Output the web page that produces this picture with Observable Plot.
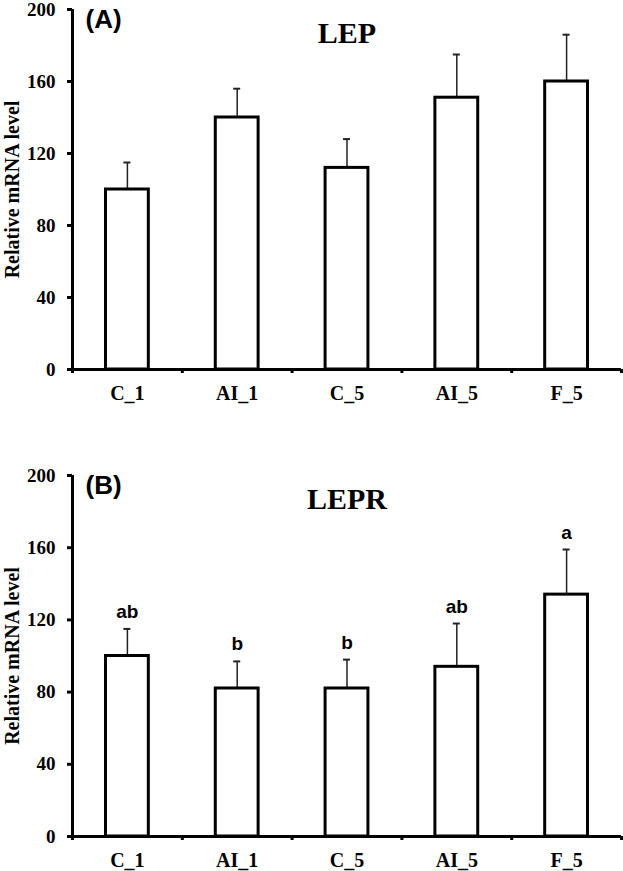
<!DOCTYPE html>
<html>
<head>
<meta charset="utf-8">
<script src="https://cdn.jsdelivr.net/npm/d3@7"></script>
<script src="https://cdn.jsdelivr.net/npm/@observablehq/plot@0.6"></script>
<style>
  body { margin: 0; background: white; }
  #chart svg { display: block; }
</style>
</head>
<body>
<div id="chart"></div>
<script>
const categories = ["C_1", "AI_1", "C_5", "AI_5", "F_5"];
const lepMean = [100, 140, 112, 151, 160];
const lepSE = [15, 16, 16, 24, 26];
const leprMean = [100, 82, 82, 94, 134];
const leprSE = [15, 15, 16, 24, 25];
const leprLetters = ["ab", "b", "b", "ab", "a"];
const yTicks = [0, 40, 80, 120, 160, 200];
const yLabel = "Relative mRNA level";

const serif = "'Liberation Serif', 'Times New Roman', serif";
const sans = "'Liberation Sans', Arial, sans-serif";

function panel({mean, se, letters, tag, gene, height, marginTop, marginBottom}) {
  const rows = categories.map((c, i) => ({i, c, mean: mean[i], top: mean[i] + se[i], letter: letters ? letters[i] : ""}));
  const boundaries = d3.range(categories.length + 1);
  const centers = categories.map((c, i) => i + 0.5);
  return Plot.plot({
    width: 623,
    height,
    marginLeft: 72,
    marginRight: 2,
    marginTop,
    marginBottom,
    x: {type: "linear", domain: [0, categories.length], axis: null},
    y: {domain: [0, 200], axis: null},
    style: {background: "white", color: "black", overflow: "visible"},
    marks: [
      // error bars
      Plot.ruleX(rows, {x: d => d.i + 0.5, y1: "mean", y2: "top", stroke: "#222", strokeWidth: 1.5}),
      Plot.ruleY(rows, {y: "top", x1: d => d.i + 0.468, x2: d => d.i + 0.532, stroke: "#222", strokeWidth: 2}),
      // bars
      Plot.rectY(rows, {x1: d => d.i + 0.5 - 0.195, x2: d => d.i + 0.5 + 0.195, y1: 0, y2: "mean", fill: "white", stroke: "black", strokeWidth: 3}),
      // significance letters
      Plot.text(rows, {x: d => d.i + 0.5, y: "top", text: "letter", dy: -11, lineAnchor: "bottom", fontFamily: sans, fontWeight: "bold", fontSize: 19, fill: "black"}),
      // axes
      Plot.axisY(yTicks, {tickSize: 5, strokeWidth: 3, tickPadding: 12, fontFamily: serif, fontWeight: "bold", fontSize: 19, label: null, fill: "black"}),
      Plot.axisX(boundaries, {tickSize: 4, strokeWidth: 3, tickFormat: () => "", label: null}),
      Plot.axisX(centers, {tickSize: 0, tickPadding: 16, tickFormat: v => categories[Math.floor(v)], fontFamily: serif, fontWeight: "bold", fontSize: 20, label: null, fill: "black"}),
      Plot.ruleX([0], {stroke: "black", strokeWidth: 3}),
      Plot.ruleY([0], {stroke: "black", strokeWidth: 3}),
      // y label
      Plot.text([yLabel], {x: [0], y: [100], rotate: -90, dx: -60, textAnchor: "middle", lineAnchor: "middle", fontFamily: serif, fontWeight: "bold", fontSize: 20, fill: "black"}),
      // panel tag
      Plot.text([tag], {frameAnchor: "top-left", dx: 13, dy: 0, textAnchor: "start", lineAnchor: "top", fontFamily: sans, fontWeight: "bold", fontSize: 26, fill: "black"}),
      // gene title
      Plot.text([gene], {x: [2.5], frameAnchor: "top", dy: 33, lineAnchor: "bottom", fontFamily: serif, fontWeight: "bold", fontSize: 30, fill: "black"})
    ]
  });
}

const chart = document.getElementById("chart");
chart.append(panel({mean: lepMean, se: lepSE, letters: null, tag: "(A)", gene: "LEP", height: 467, marginTop: 9, marginBottom: 98}));
chart.append(panel({mean: leprMean, se: leprSE, letters: leprLetters, tag: "(B)", gene: "LEPR", height: 404, marginTop: 8, marginBottom: 35}));
</script>
</body>
</html>
